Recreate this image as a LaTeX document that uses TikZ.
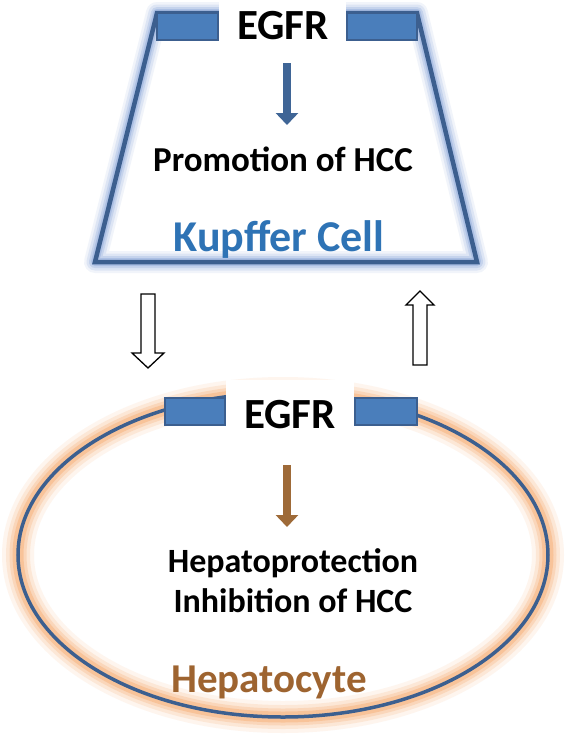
\documentclass[tikz,border=0pt]{standalone}
\usepackage{fontspec}
\setmainfont{Carlito}
\usetikzlibrary{arrows.meta}
\definecolor{edgeblue}{HTML}{3C5F8F}
\definecolor{rectblue}{HTML}{4A7EBB}
\definecolor{kupblue}{HTML}{2E73B5}
\definecolor{hepbrown}{HTML}{9E6430}
\definecolor{arrbrown}{HTML}{9E6A38}
\definecolor{arrblue}{HTML}{3F6596}
\definecolor{glowblue}{HTML}{8FAADC}
\definecolor{gloworange}{HTML}{F7B27A}
\tikzset{
  receptor/.style={draw=edgeblue, fill=rectblue, line width=2.5pt},
  lbl/.style={font=\bfseries, inner sep=0pt, anchor=center},
  whitebox/.style={fill=white, draw=none},
  hollow/.style={draw=black, fill=white, line width=1.3pt, line join=miter},
  solidarrow/.style={line width=8pt, -{Triangle[width=22pt,length=12pt]}}
}
\begin{document}
\begin{tikzpicture}[x=1pt,y=-1pt]
\useasboundingbox (0,0) rectangle (567,737);
\fill[white] (0,0) rectangle (567,737);
% trapezoid glow
\foreach \w/\o in {22/0.12,17/0.2,12/0.3,8/0.45}{
  \draw[glowblue, opacity=\o, line width=\w pt, line join=round] (157,13) -- (417,13) -- (477,262) -- (95,262) -- cycle;
}
\draw[edgeblue, line width=4.5pt, line join=miter] (157,13) -- (417,13) -- (477,262) -- (95,262) -- cycle;
% ellipse glow
\foreach \w/\o in {32/0.12,24/0.2,17/0.3,11/0.5}{
  \draw[gloworange, opacity=\o, line width=\w pt] (283,555) ellipse [x radius=265, y radius=162];
}
\draw[edgeblue, line width=3.5pt] (283,555) ellipse [x radius=265, y radius=162];
% white boxes behind EGFR labels
\fill[whitebox] (219,0) rectangle (346,50);
\fill[whitebox] (226,380) rectangle (354,440);
% receptors
\draw[receptor] (157,13) rectangle (218,40);
\draw[receptor] (347,13) rectangle (417,40);
\draw[receptor] (165,398) rectangle (225,425);
\draw[receptor] (355,398) rectangle (417,425);
% labels
\node[lbl, font=\fontsize{43}{45}\selectfont\bfseries] (egfrK) at (283,26) {EGFR};
\node[lbl, font=\fontsize{35}{37}\selectfont\bfseries] (promo) at (283,159) {Promotion of HCC};
\node[lbl, font=\fontsize{44}{46}\selectfont\bfseries, text=kupblue] (kup) at (279,239) {Kupffer Cell};
\node[lbl, font=\fontsize{43}{45}\selectfont\bfseries] (egfrH) at (290,415) {EGFR};
\node[lbl, font=\fontsize{34}{40}\selectfont\bfseries, align=center] (hepprot) at (293,581) {Hepatoprotection\\Inhibition of HCC};
\node[lbl, font=\fontsize{41}{43}\selectfont\bfseries, text=hepbrown] (hep) at (269,682) {Hepatocyte};
% solid arrows
\coordinate (bA) at (287,63);
\coordinate (bB) at (287,125);
\draw[solidarrow, arrblue] (bA) -- (bB);
\coordinate (oA) at (287,465);
\coordinate (oB) at (287,527);
\draw[solidarrow, arrbrown] (oA) -- (oB);
% hollow arrows
\draw[hollow] (141,294) -- (155,294) -- (155,353) -- (164,353) -- (148,368) -- (132,353) -- (141,353) -- cycle;
\draw[hollow] (413,365) -- (427,365) -- (427,305) -- (434,305) -- (420,291) -- (406,305) -- (413,305) -- cycle;
\end{tikzpicture}
\end{document}
